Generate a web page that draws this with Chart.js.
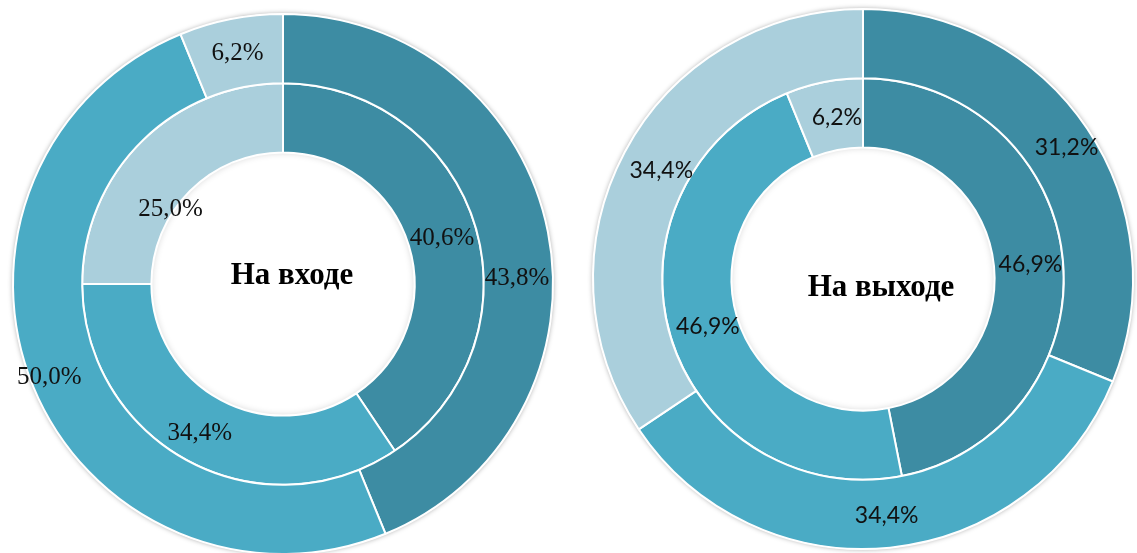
<!DOCTYPE html>
<html>
<head>
<meta charset="utf-8">
<script src="https://cdn.jsdelivr.net/npm/chart.js@4.4.1/dist/chart.umd.min.js"></script>
<style>
  html, body { margin: 0; padding: 0; width: 1137px; height: 553px; overflow: hidden; background: #ffffff; }
  canvas { position: absolute; }
  .title { position: absolute; transform: translate(-50%, -50%); font-family: "Liberation Serif", "Times New Roman", serif; font-weight: bold; font-size: 31px; line-height: 31px; color: #000; white-space: nowrap; }
</style>
</head>
<body>
<canvas id="cIn" width="560" height="560" style="left:3px; top:4px;"></canvas>
<canvas id="cOut" width="560" height="560" style="left:583px; top:-1px;"></canvas>
<div class="title" style="left:292px; top:273px;">На входе</div>
<div class="title" style="left:881px; top:285px;">На выходе</div>
<script>
// ---- data ----
const categories = ["Категория 1", "Категория 2", "Категория 3"];
const inputOuter = [43.8, 50.0, 6.2];
const inputInner = [40.6, 34.4, 25.0];
const outputOuter = [31.2, 34.4, 34.4];
const outputInner = [46.9, 46.9, 6.2];
const titles = ["На входе", "На выходе"];

// ---- styles ----
const colors = ["#3d8ca3", "#4aabc5", "#aacfdc"];

function fmt(v) { return v.toFixed(1).replace('.', ',') + '%'; }

const decorPlugin = {
  id: 'decor',
  beforeDatasetsDraw(chart) {
    const meta = chart.getDatasetMeta(0);
    const a = meta.data[0];
    if (!a) return;
    const ctx = chart.ctx;
    ctx.save();
    ctx.beginPath();
    ctx.arc(a.x, a.y, a.outerRadius + 0.5, 0, Math.PI * 2);
    ctx.fillStyle = '#ffffff';
    ctx.shadowColor = 'rgba(0,0,0,0.35)';
    ctx.shadowBlur = 5;
    ctx.fill();
    ctx.restore();
  },
  afterDatasetsDraw(chart, args, opts) {
    const ctx = chart.ctx;
    const n = chart.data.datasets.length;
    const innerMeta = chart.getDatasetMeta(n - 1);
    const ia = innerMeta.data[0];
    if (ia) {
      // inner shadow of the hole
      ctx.save();
      ctx.beginPath();
      ctx.arc(ia.x, ia.y, ia.innerRadius - 1, 0, Math.PI * 2);
      ctx.clip();
      ctx.beginPath();
      ctx.arc(ia.x, ia.y, ia.innerRadius + 6, 0, Math.PI * 2);
      ctx.lineWidth = 12;
      ctx.strokeStyle = 'rgba(0,0,0,0.4)';
      ctx.shadowColor = 'rgba(0,0,0,0.45)';
      ctx.shadowBlur = 7;
      ctx.stroke();
      ctx.restore();
    }
    // labels
    ctx.save();
    ctx.fillStyle = opts.color;
    ctx.font = opts.font;
    ctx.textAlign = 'center';
    ctx.textBaseline = 'middle';
    chart.data.datasets.forEach((ds, di) => {
      const meta = chart.getDatasetMeta(di);
      meta.data.forEach((arc, i) => {
        const p = arc.tooltipPosition();
        const nudge = (opts.nudges[di] && opts.nudges[di][i]) || [0, 0];
        ctx.fillText(fmt(ds.data[i]), p.x + nudge[0], p.y + nudge[1]);
      });
    });
    ctx.restore();
  }
};

function makeChart(id, outer, inner, labelFont, nudges) {
  return new Chart(document.getElementById(id), {
    type: 'doughnut',
    data: {
      labels: categories,
      datasets: [
        { data: outer, backgroundColor: colors, borderColor: '#ffffff', borderWidth: 2 },
        { data: inner, backgroundColor: colors, borderColor: '#ffffff', borderWidth: 2 }
      ]
    },
    options: {
      responsive: false,
      animation: false,
      radius: 270,
      cutout: 136,
      layout: { padding: 0 },
      plugins: {
        legend: { display: false },
        tooltip: { enabled: false },
        decor: { font: labelFont, color: '#111111', nudges: nudges }
      }
    },
    plugins: [decorPlugin]
  });
}

makeChart('cIn', inputOuter, inputInner, '25px "Liberation Serif", "Times New Roman", serif',
  [[[3, 40], [-16, 4], [0, 0]], [[0, 3], [-5, 3], [5, 43]]]);
makeChart('cOut', outputOuter, outputInner, '23px Lato, "Open Sans", sans-serif',
  [[[8, 0], [0, 2], [6, 2]], [[2, 2], [4, 0], [6, 2]]]);
</script>
</body>
</html>
